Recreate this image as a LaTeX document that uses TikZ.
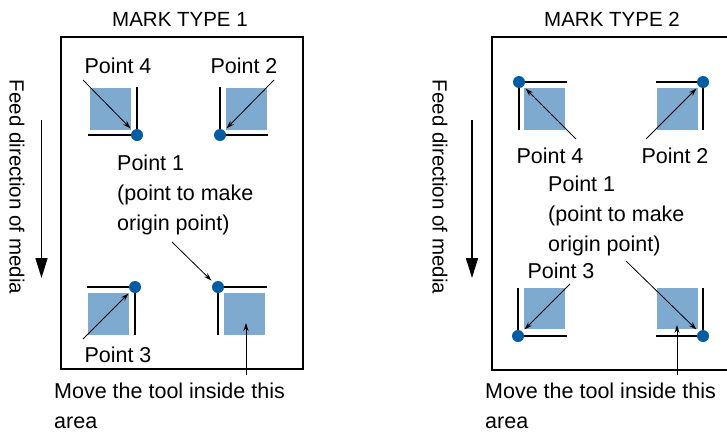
\documentclass[tikz,border=0pt]{standalone}
\usepackage{fontspec}
\setmainfont{Liberation Sans}
\usepackage{xcolor}
\usepackage{tikz}
\usetikzlibrary{arrows.meta}
\definecolor{zoneblue}{HTML}{7EAAD0}
\definecolor{dotblue}{HTML}{005DA3}

\begin{document}
\begin{tikzpicture}[x=1pt, y=-1pt,
    frame/.style={line width=1.6pt},
    zone/.style={fill=zoneblue},
    edge/.style={line width=2.6pt},
    pt/.style={circle, fill=dotblue, inner sep=0pt, minimum size=12pt},
    lbl/.style={anchor=base, inner sep=0pt, font=\fontsize{21.5}{30}\selectfont},
    small/.style={font=\fontsize{20.5}{30}\selectfont},
    ptr/.style={-{Stealth[length=8pt,width=5pt]}, line width=0.8pt, shorten >=3pt},
    feed/.style={-{Triangle[length=20pt,width=12pt]}, line width=1.6pt}]
    \useasboundingbox (0,0) rectangle (727,432);
    % mark type 1
    \node[lbl, small] (t1) at (180,26) {MARK TYPE 1};
    \draw[frame] (61,37) rectangle (303,369);
    \node[lbl, small, anchor=center, rotate=-90] (f1) at (17,187) {Feed direction of media};
    \coordinate (f1s) at (41.5,120); \coordinate (f1e) at (41.5,278);
    \draw[feed] (f1s) -- (f1e);
    \fill[zone] (90,88) rectangle (131,130);
    \fill[zone] (226,88) rectangle (267,130);
    \fill[zone] (88,293) rectangle (129,335);
    \fill[zone] (224,293) rectangle (265,335);
    \draw[edge] (88,135) -- (137,135) -- (137,87);
    \draw[edge] (220,87) -- (220,135) -- (268,135);
    \draw[edge] (87,287) -- (135,287) -- (135,335);
    \draw[edge] (218,335) -- (218,287) -- (267,287);
    \node[pt] (a4) at (137,135) {};
    \node[pt] (a2) at (220,135) {};
    \node[pt] (a3) at (135,287) {};
    \node[pt] (a1) at (218,287) {};
    \node[lbl] (l4) at (118,73) {Point 4};
    \node[lbl] (l2) at (244,73) {Point 2};
    \node[lbl] (l3) at (118,362) {Point 3};
    \node[lbl, anchor=north west, align=left] (l1) at (117,154.5) {Point 1\\(point to make\\origin point)};
    \node[lbl, anchor=north west, align=left] (m1) at (54,382.5) {Move the tool inside this\\area};
    \coordinate (s4) at (83,80); \coordinate (s2) at (274,80);
    \coordinate (s3) at (83,339); \coordinate (s1) at (172,242);
    \coordinate (u1) at (246,375); \coordinate (v1) at (246,323);
    \draw[ptr] (s4) -- (a4);
    \draw[ptr] (s2) -- (a2);
    \draw[ptr] (s3) -- (a3);
    \draw[ptr] (s1) -- (a1);
    \draw[ptr, shorten >=0pt] (u1) -- (v1);
    % mark type 2
    \node[lbl, small] (t2) at (612,26) {MARK TYPE 2};
    \draw[frame] (727,37) -- (492,37) -- (492,370) -- (727,370);
    \node[lbl, small, anchor=center, rotate=-90] (f2) at (440,187) {Feed direction of media};
    \coordinate (f2s) at (472,120); \coordinate (f2e) at (472,278);
    \draw[feed] (f2s) -- (f2e);
    \fill[zone] (524,88) rectangle (565,130);
    \fill[zone] (657,88) rectangle (698,130);
    \fill[zone] (524,288) rectangle (565,329);
    \fill[zone] (657,288) rectangle (698,329);
    \draw[edge] (519,130) -- (519,82) -- (567,82);
    \draw[edge] (656,82) -- (703,82) -- (703,130);
    \draw[edge] (518,288) -- (518,336) -- (567,336);
    \draw[edge] (656,336) -- (703,336) -- (703,288);
    \node[pt] (b4) at (519,82) {};
    \node[pt] (b2) at (703,82) {};
    \node[pt] (b3) at (518,336) {};
    \node[pt] (b1) at (703,336) {};
    \node[lbl] (k4) at (550,163) {Point 4};
    \node[lbl] (k2) at (675,163) {Point 2};
    \node[lbl] (k3) at (561,278) {Point 3};
    \node[lbl, anchor=north west, align=left] (k1) at (548,175.5) {Point 1\\(point to make\\origin point)};
    \node[lbl, anchor=north west, align=left] (m2) at (485,382.5) {Move the tool inside this\\area};
    \coordinate (r4) at (576,139); \coordinate (r2) at (646,139);
    \coordinate (r3) at (570,284); \coordinate (r1) at (626,261);
    \coordinate (u2) at (677,375); \coordinate (v2) at (677,325);
    \draw[ptr] (r4) -- (b4);
    \draw[ptr] (r2) -- (b2);
    \draw[ptr] (r3) -- (b3);
    \draw[ptr] (r1) -- (b1);
    \draw[ptr, shorten >=0pt] (u2) -- (v2);
\end{tikzpicture}
\end{document}
